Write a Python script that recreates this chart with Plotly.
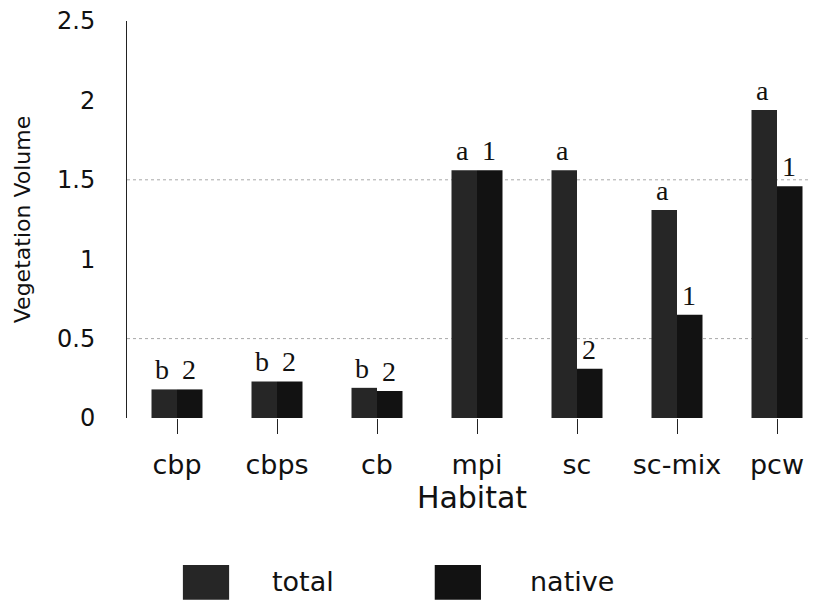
import plotly.graph_objects as go

categories = ["cbp", "cbps", "cb", "mpi", "sc", "sc-mix", "pcw"]
total_values = [0.18, 0.23, 0.19, 1.56, 1.56, 1.31, 1.94]
native_values = [0.18, 0.23, 0.17, 1.56, 0.31, 0.65, 1.46]
total_letters = ["b", "b", "b", "a", "a", "a", "a"]
native_letters = ["2", "2", "2", "1", "2", "1", "1"]
grid_values = [0.5, 1.5]
y_ticks = [0, 0.5, 1, 1.5, 2, 2.5]
y_tick_labels = ["0", "0.5", "1", "1.5", "2", "2.5"]

SANS = "DejaVu Sans, Liberation Sans, Arial, sans-serif"
SERIF = "Liberation Serif, Times New Roman, serif"
TOTAL_COLOR = "#262626"
NATIVE_COLOR = "#121212"
TEXT_COLOR = "#111"

fig = go.Figure()
fig.add_trace(go.Bar(x=categories, y=total_values, name="total",
                     marker=dict(color=TOTAL_COLOR, line=dict(width=0))))
fig.add_trace(go.Bar(x=categories, y=native_values, name="native",
                     marker=dict(color=NATIVE_COLOR, line=dict(width=0))))

for g in grid_values:
    fig.add_hline(y=g, line=dict(color="#a8a8a8", width=1, dash="dot"), layer="below")

annotations = []
for cat, tv, nv, tl, nl in zip(categories, total_values, native_values, total_letters, native_letters):
    annotations.append(dict(x=cat, y=tv, text=tl, showarrow=False, xanchor="center",
                            yanchor="bottom", xshift=-15, yshift=2,
                            font=dict(family=SERIF, size=28, color=TEXT_COLOR)))
    annotations.append(dict(x=cat, y=nv, text=nl, showarrow=False, xanchor="center",
                            yanchor="bottom", xshift=12, yshift=2,
                            font=dict(family=SERIF, size=28, color=TEXT_COLOR)))

# custom legend (large swatches as in the original)
legend_items = [("total", TOTAL_COLOR, 0.081, 0.207), ("native", NATIVE_COLOR, 0.446, 0.581)]
for label, color, bx, tx in legend_items:
    fig.add_shape(type="rect", xref="paper", yref="paper", x0=bx, x1=bx + 0.067,
                  y0=-0.458, y1=-0.37, fillcolor=color, line=dict(width=0))
    annotations.append(dict(xref="paper", yref="paper", x=tx, y=-0.412, text=label,
                            showarrow=False, xanchor="left", yanchor="middle",
                            font=dict(family=SANS, size=27, color=TEXT_COLOR)))

# the page body adds an 8px offset; size the figure so it fits the 817x602 window
fig.update_layout(
    width=809, height=594,
    margin=dict(l=119, r=0, t=13, b=184),
    paper_bgcolor="white", plot_bgcolor="white",
    barmode="group", bargap=0.49, bargroupgap=0,
    showlegend=False,
    annotations=annotations,
    font=dict(family=SANS, color=TEXT_COLOR),
)
fig.update_xaxes(
    automargin=False,
    range=[-0.5, 6.4], showgrid=False, showline=False, zeroline=False,
    ticks="outside", ticklen=15, tickwidth=1, tickcolor="#222",
    tickfont=dict(family=SANS, size=27, color=TEXT_COLOR), ticklabelstandoff=8,
    title=dict(text="Habitat", font=dict(family=SANS, size=30, color=TEXT_COLOR), standoff=2),
)
fig.update_yaxes(
    automargin=False, ticklabeloverflow="allow",
    range=[0, 2.5], showgrid=False, zeroline=False,
    showline=True, linecolor="#222", linewidth=1,
    tickvals=y_ticks, ticktext=y_tick_labels, ticks="",
    tickfont=dict(family=SANS, size=24, color=TEXT_COLOR), ticklabelstandoff=26,
    title=dict(text="Vegetation Volume", font=dict(family=SANS, size=22, color=TEXT_COLOR), standoff=20),
)

fig.write_html("out.html")
